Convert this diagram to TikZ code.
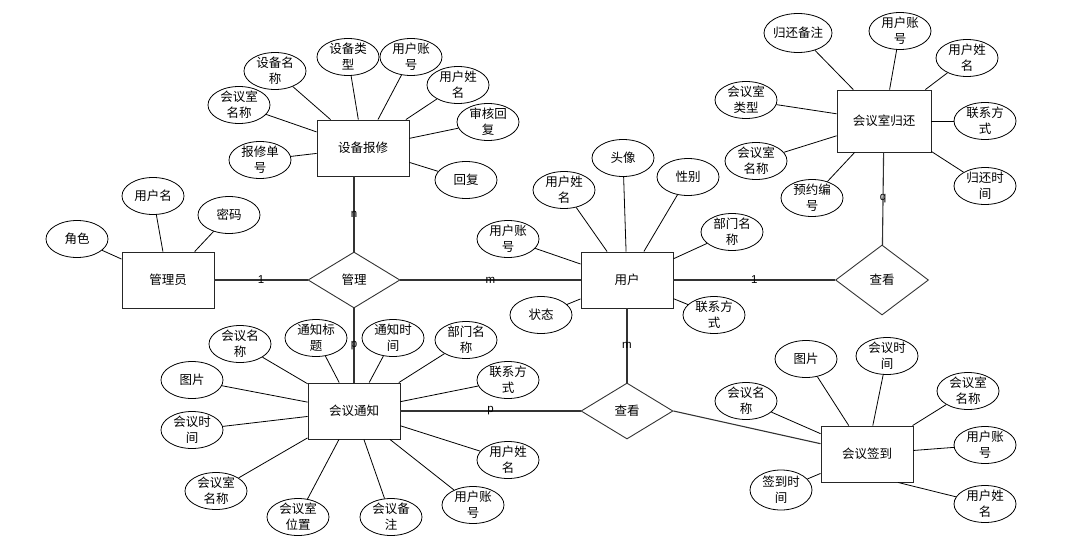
\documentclass[tikz,border=0pt]{standalone}
\usepackage{fontspec}
\setmainfont{Noto Sans CJK SC}
\newfontfamily\labelfont{Liberation Sans}
\usepackage{tikz}
\usetikzlibrary{shapes.geometric}
\tikzstyle{entity}=[rectangle, draw=black!85, line width=0.9pt, minimum width=92pt, minimum height=56pt, inner sep=0pt]
\tikzstyle{attr}=[ellipse, draw, line width=0.8pt, minimum width=62pt, minimum height=37pt, inner xsep=-2pt, inner ysep=-4pt, align=center]
\tikzstyle{relation}=[diamond, draw=black!80, line width=0.9pt, minimum width=92pt, minimum height=56pt, inner sep=0pt]
\tikzstyle{card}=[font=\labelfont\fontsize{11.5}{13}\selectfont, inner sep=0pt]
\tikzstyle{link}=[draw=black!80, line width=1.1pt]

\begin{document}
\begin{tikzpicture}[x=1pt, y=-1pt, line width=0.8pt, font=\fontsize{12.5}{16}\selectfont]
	\useasboundingbox (0,0) rectangle (1070,554);
	% entities and relations
	\node[entity] (admin) at (168,280) {管理员};
	\node[entity] (repair) at (363,148) {设备报修};
	\node[entity] (user) at (627,280) {用户};
	\node[entity, minimum width=94pt, minimum height=62pt] (back) at (884,121) {会议室归还};
	\node[entity] (notice) at (354,411) {会议通知};
	\node[entity] (sign) at (867,454) {会议签到};
	\node[relation] (manage) at (354,280) {管理};
	\node[relation, minimum width=93pt, minimum height=70pt] (view1) at (882,280) {查看};
	\node[relation] (view2) at (627,411) {查看};
	% attributes of admin
	\node[attr] (admin1) at (77,239) {角色};
	\node[attr] (admin2) at (153,196) {用户名};
	\node[attr] (admin3) at (229,215) {密码};
	% attributes of repair
	\node[attr] (repair1) at (275,71) {设备名\\称};
	\node[attr] (repair2) at (239,105) {会议室\\名称};
	\node[attr] (repair3) at (348,57) {设备类\\型};
	\node[attr] (repair4) at (411,57) {用户账\\号};
	\node[attr] (repair5) at (458,85) {用户姓\\名};
	\node[attr] (repair6) at (488,122) {审核回\\复};
	\node[attr] (repair7) at (260,160) {报修单\\号};
	\node[attr] (repair8) at (466,180) {回复};
	% attributes of back
	\node[attr, minimum width=68pt, minimum height=39pt] (back1) at (798,33) {归还备注};
	\node[attr] (back2) at (900,31) {用户账\\号};
	\node[attr] (back3) at (967,58) {用户姓\\名};
	\node[attr] (back4) at (746,100) {会议室\\类型};
	\node[attr] (back5) at (985,121) {联系方\\式};
	\node[attr] (back6) at (756,161) {会议室\\名称};
	\node[attr] (back7) at (812,198) {预约编\\号};
	\node[attr] (back8) at (985,186) {归还时\\间};
	% attributes of user
	\node[attr] (user1) at (623,158) {头像};
	\node[attr] (user2) at (564,190) {用户姓\\名};
	\node[attr] (user3) at (688,177) {性别};
	\node[attr] (user4) at (508,239) {用户账\\号};
	\node[attr] (user5) at (732,232) {部门名\\称};
	\node[attr] (user6) at (541,315) {状态};
	\node[attr] (user7) at (714,315) {联系方\\式};
	% attributes of notice
	\node[attr] (notice1) at (240,344) {会议名\\称};
	\node[attr] (notice2) at (316,338) {通知标\\题};
	\node[attr] (notice3) at (393,338) {通知时\\间};
	\node[attr] (notice4) at (466,340) {部门名\\称};
	\node[attr] (notice5) at (192,380) {图片};
	\node[attr] (notice6) at (508,380) {联系方\\式};
	\node[attr] (notice7) at (192,430) {会议时\\间};
	\node[attr] (notice8) at (508,460) {用户姓\\名};
	\node[attr] (notice9) at (216,491) {会议室\\名称};
	\node[attr] (notice10) at (298,517) {会议室\\位置};
	\node[attr] (notice11) at (391,517) {会议备\\注};
	\node[attr] (notice12) at (473,505) {用户账\\号};
	% attributes of sign
	\node[attr] (sign1) at (806,359) {图片};
	\node[attr] (sign2) at (887,356) {会议时\\间};
	\node[attr] (sign3) at (746,401) {会议名\\称};
	\node[attr] (sign4) at (968,391) {会议室\\名称};
	\node[attr] (sign5) at (985,445) {用户账\\号};
	\node[attr, minimum height=40pt] (sign6) at (781,490) {签到时\\间};
	\node[attr] (sign7) at (985,504) {用户姓\\名};
	\path[-]
	(admin) edge (admin1) edge (admin2) edge (admin3)
	(repair) edge (repair1) edge (repair2) edge (repair3) edge (repair4)
	         edge (repair5) edge (repair6) edge (repair7) edge (repair8)
	(back) edge (back1) edge (back2) edge (back3) edge (back4)
	       edge (back5) edge (back6) edge (back7) edge (back8)
	(user) edge (user1) edge (user2) edge (user3) edge (user4)
	       edge (user5) edge (user6) edge (user7)
	(notice) edge (notice1) edge (notice2) edge (notice3) edge (notice4)
	         edge (notice5) edge (notice6) edge (notice7) edge (notice8)
	         edge (notice9) edge (notice10) edge (notice11) edge (notice12)
	(sign) edge (sign1) edge (sign2) edge (sign3) edge (sign4)
	       edge (sign5) edge (sign6)
	([xshift=31pt]sign.south) edge (sign7);
	\path[-, link]
	(admin) edge node[card] {1} (manage)
	(manage |- repair.south) edge node[card] {n} (manage)
	(manage) edge node[card] {m} (user)
	(manage) edge node[card] {p} (notice)
	(notice) edge node[card] {p} (view2)
	(user) edge node[card] {m} (view2)
	(user) edge node[card] {1} (view1)
	(view1) edge node[card] {q} (back)
	(view2.east) edge (sign);
\end{tikzpicture}
\end{document}
